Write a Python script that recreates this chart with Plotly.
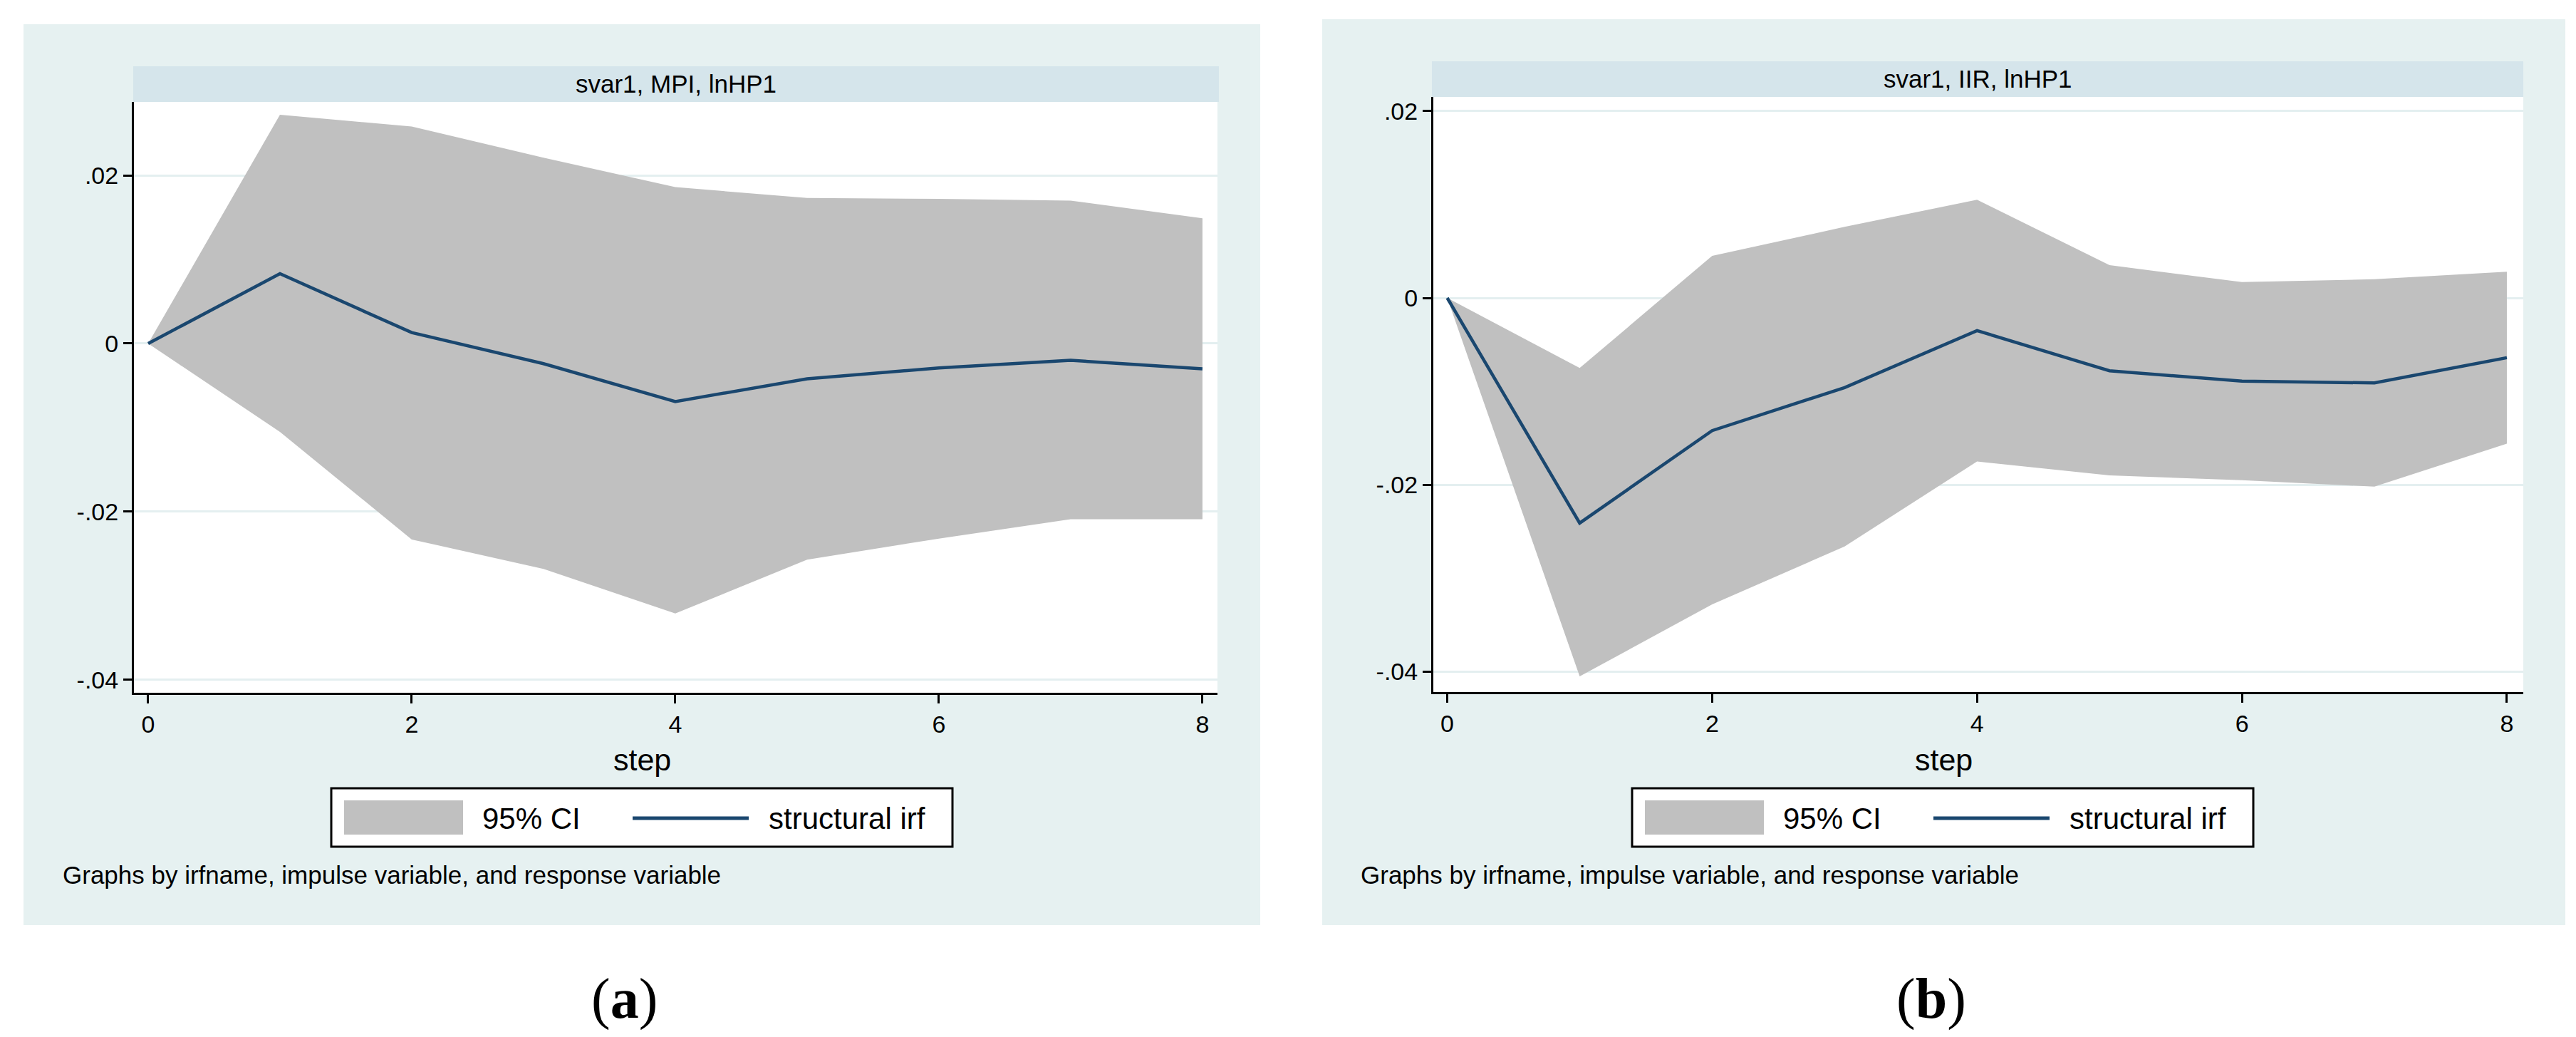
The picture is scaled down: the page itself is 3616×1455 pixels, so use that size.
import plotly.graph_objects as go

# ---------------- data ----------------
steps = [0, 1, 2, 3, 4, 5, 6, 7, 8]

# panel (a): svar1, MPI, lnHP1
a_upper = [0.0, 0.0272, 0.0258, 0.0221, 0.0186, 0.0173, 0.0172, 0.0170, 0.0149]
a_lower = [0.0, -0.0105, -0.0233, -0.0268, -0.0321, -0.0257, -0.0232, -0.0209, -0.0209]
a_irf = [0.0, 0.0083, 0.0013, -0.0024, -0.0069, -0.0042, -0.0029, -0.0020, -0.0030]

# panel (b): svar1, IIR, lnHP1
b_upper = [0.0, -0.0075, 0.0045, 0.0076, 0.0105, 0.0035, 0.0017, 0.0020, 0.0028]
b_lower = [0.0, -0.0405, -0.0328, -0.0266, -0.0175, -0.0190, -0.0195, -0.0202, -0.0156]
b_irf = [0.0, -0.0241, -0.0142, -0.0096, -0.0035, -0.0078, -0.0089, -0.0091, -0.0064]

panel_titles = ["svar1, MPI, lnHP1", "svar1, IIR, lnHP1"]
panel_tags = ["(<b>a</b>)", "(<b>b</b>)"]
y_tickvals = [-0.04, -0.02, 0, 0.02]
y_ticktext = ["-.04", "-.02", "0", ".02"]
x_tickvals = [0, 2, 4, 6, 8]
legend_labels = ["95% CI", "structural irf"]
note_text = "Graphs by irfname, impulse variable, and response variable"
x_title = "step"

# ---------------- style ----------------
W, H = 3616, 1455
BG = "#E6F1F1"
STRIP = "#D5E5EB"
GRID = "#E4EFF0"
CI = "#C0C0C0"
LINE = "#1A476F"
FONT = "Liberation Sans, Arial, Helvetica, sans-serif"
SERIF = "Liberation Serif, Times New Roman, serif"


def px(x):
    return x / W


def py(y):
    return 1 - y / H


fig = go.Figure()

panels = [
    dict(upper=a_upper, lower=a_lower, irf=a_irf, xa="x", ya="y"),
    dict(upper=b_upper, lower=b_lower, irf=b_irf, xa="x2", ya="y2"),
]
for p in panels:
    fig.add_trace(go.Scatter(x=steps, y=p["lower"], mode="lines", line=dict(width=0, color=CI),
                             xaxis=p["xa"], yaxis=p["ya"], showlegend=False, hoverinfo="skip"))
    fig.add_trace(go.Scatter(x=steps, y=p["upper"], mode="lines", line=dict(width=0, color=CI),
                             fill="tonexty", fillcolor=CI,
                             xaxis=p["xa"], yaxis=p["ya"], showlegend=False, name=legend_labels[0]))
    fig.add_trace(go.Scatter(x=steps, y=p["irf"], mode="lines", line=dict(width=4.5, color=LINE),
                             xaxis=p["xa"], yaxis=p["ya"], showlegend=False, name=legend_labels[1]))

# geometry in pixels
geo = [
    dict(outer=(25, 26, 1761, 1290), plot=(180, 135, 1701, 964), strip=(179, 85, 1703, 135),
         xr=(-0.108, 8.114), yr=(-0.04153, 0.02873), center=893, dx=0, note_x=78, tag_x=868),
    dict(outer=(1848, 19, 3593, 1290), plot=(2004, 128, 3534, 963), strip=(2002, 78, 3534, 128),
         xr=(-0.105, 8.124), yr=(-0.04218, 0.02151), center=2720, dx=1826, note_x=1900, tag_x=2703),
]

shapes = []
annotations = []
axis_common = dict(showline=True, linecolor="black", linewidth=3, ticks="outside", ticklen=12,
                   tickwidth=3, tickcolor="black", zeroline=False,
                   tickfont=dict(family=FONT, size=34, color="black"))
for i, g in enumerate(geo):
    ox0, oy0, ox1, oy1 = g["outer"]
    shapes.append(dict(type="rect", xref="paper", yref="paper", x0=px(ox0), x1=px(ox1),
                       y0=py(oy1), y1=py(oy0), fillcolor=BG, line=dict(width=0), layer="below"))
    x0, y0, x1, y1 = g["plot"]
    shapes.append(dict(type="rect", xref="paper", yref="paper", x0=px(x0), x1=px(x1),
                       y0=py(y1), y1=py(y0), fillcolor="white", line=dict(width=0), layer="below"))
    sx0, sy0, sx1, sy1 = g["strip"]
    shapes.append(dict(type="rect", xref="paper", yref="paper", x0=px(sx0), x1=px(sx1),
                       y0=py(sy1), y1=py(sy0), fillcolor=STRIP, line=dict(width=0), layer="below"))
    annotations.append(dict(text=panel_titles[i], xref="paper", yref="paper",
                            x=px((sx0 + sx1) / 2), y=py((sy0 + sy1) / 2), showarrow=False,
                            xanchor="center", yanchor="middle",
                            font=dict(family=FONT, size=35, color="black")))
    suffix = "" if i == 0 else "2"
    fig.layout["xaxis" + suffix] = dict(domain=[px(x0), px(x1)], range=list(g["xr"]),
                                        tickvals=x_tickvals, showgrid=False,
                                        anchor="y" + suffix, **axis_common)
    fig.layout["yaxis" + suffix] = dict(domain=[py(y1), py(y0)], range=list(g["yr"]),
                                        tickvals=y_tickvals, ticktext=y_ticktext,
                                        showgrid=True, gridcolor=GRID, gridwidth=3,
                                        anchor="x" + suffix, **axis_common)
    # x title
    annotations.append(dict(text=x_title, xref="paper", yref="paper", x=px(g["center"]),
                            y=py(1058), showarrow=False, xanchor="center", yanchor="middle",
                            font=dict(family=FONT, size=43, color="black")))
    # legend box
    dx = g["dx"]
    shapes.append(dict(type="rect", xref="paper", yref="paper", x0=px(457 + dx), x1=px(1329 + dx),
                       y0=py(1180), y1=py(1098), fillcolor="white",
                       line=dict(width=3, color="black")))
    shapes.append(dict(type="rect", xref="paper", yref="paper", x0=px(475 + dx), x1=px(642 + dx),
                       y0=py(1163), y1=py(1115), fillcolor=CI, line=dict(width=0)))
    shapes.append(dict(type="line", xref="paper", yref="paper", x0=px(880 + dx), x1=px(1043 + dx),
                       y0=py(1140), y1=py(1140), line=dict(width=5, color=LINE)))
    annotations.append(dict(text=legend_labels[0], xref="paper", yref="paper", x=px(667 + dx),
                            y=py(1140), showarrow=False, xanchor="left", yanchor="middle",
                            font=dict(family=FONT, size=42, color="black")))
    annotations.append(dict(text=legend_labels[1], xref="paper", yref="paper", x=px(1069 + dx),
                            y=py(1140), showarrow=False, xanchor="left", yanchor="middle",
                            font=dict(family=FONT, size=42, color="black")))
    # note
    annotations.append(dict(text=note_text, xref="paper", yref="paper", x=px(g["note_x"]),
                            y=py(1219), showarrow=False, xanchor="left", yanchor="middle",
                            font=dict(family=FONT, size=35, color="black")))
    # panel tag
    annotations.append(dict(text=panel_tags[i], xref="paper", yref="paper", x=px(g["tag_x"]),
                            y=py(1393), showarrow=False, xanchor="center", yanchor="middle",
                            font=dict(family=SERIF, size=80, color="black")))

fig.update_layout(width=W, height=H, margin=dict(l=0, r=0, t=0, b=0),
                  paper_bgcolor="white", plot_bgcolor="white",
                  shapes=shapes, annotations=annotations, showlegend=False)

fig.write_html("out.html")
